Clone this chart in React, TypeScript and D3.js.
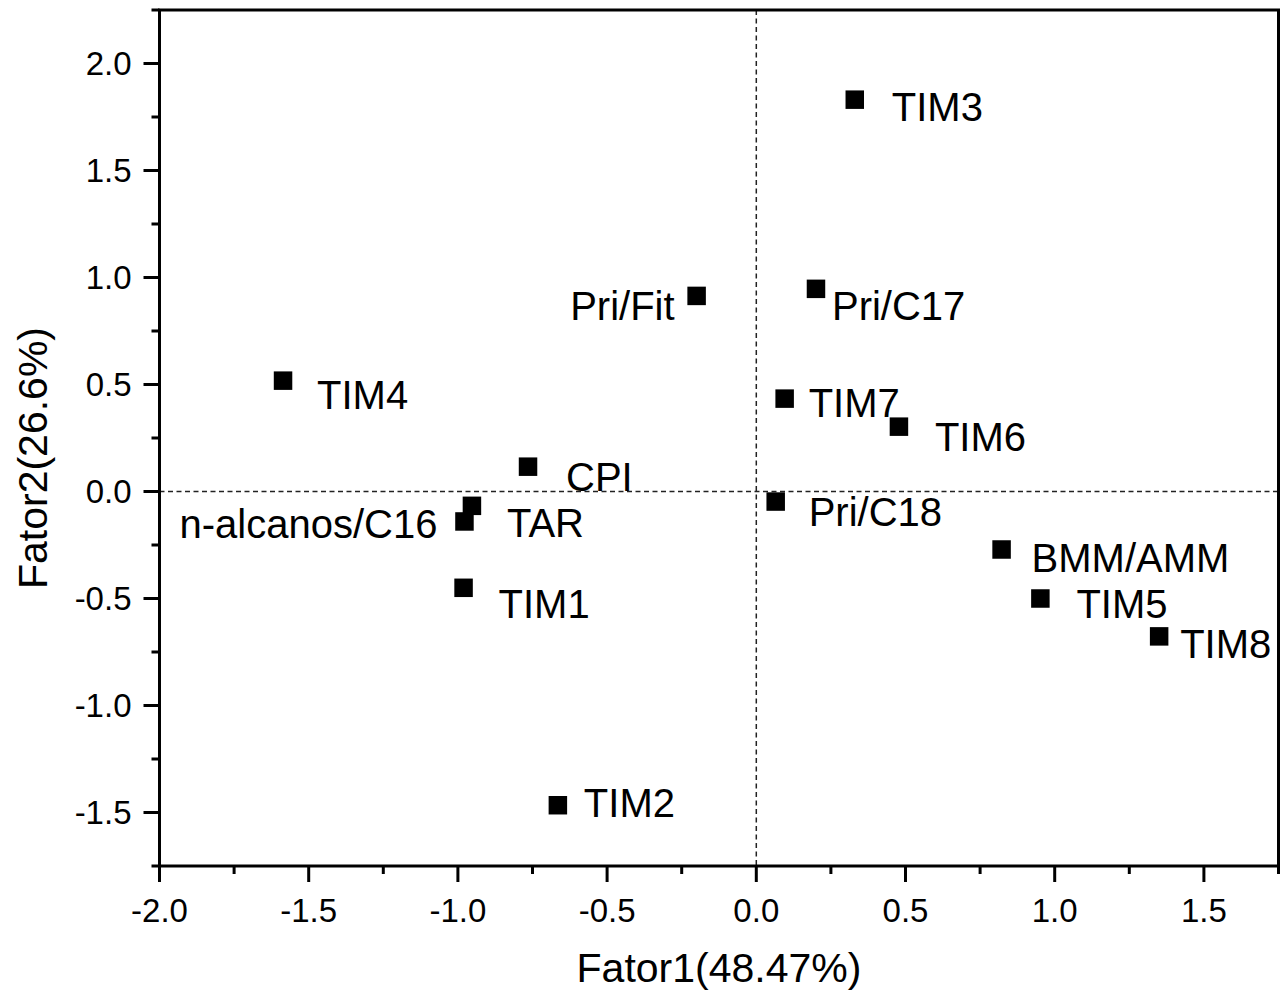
import * as d3 from "d3";
import React from "react";

// PCA scores / loadings
const labels = [
  "TIM3", "Pri/Fit", "Pri/C17", "TIM4", "CPI", "TIM7", "TIM6", "Pri/C18",
  "BMM/AMM", "TIM5", "TIM8", "TIM1", "TIM2", "TAR", "n-alcanos/C16",
];
const fator1 = [
  0.33, -0.2, 0.2, -1.586, -0.765, 0.095, 0.478, 0.065,
  0.822, 0.952, 1.35, -0.981, -0.665, -0.953, -0.978,
];
const fator2 = [
  1.831, 0.914, 0.947, 0.518, 0.116, 0.434, 0.303, -0.047,
  -0.271, -0.5, -0.677, -0.45, -1.466, -0.067, -0.14,
];
const xTicks = [-2.0, -1.5, -1.0, -0.5, 0.0, 0.5, 1.0, 1.5];
const yTicks = [-1.5, -1.0, -0.5, 0.0, 0.5, 1.0, 1.5, 2.0];

// label nudges in px: [dx, dy to baseline, anchor]
const labelPos: Record<string, [number, number, string]> = {
  TIM3: [37, 21, "start"],
  "Pri/Fit": [-22, 24, "end"],
  "Pri/C17": [16, 31, "start"],
  TIM4: [34, 28, "start"],
  CPI: [38, 24, "start"],
  TIM7: [24, 18, "start"],
  TIM6: [36, 24, "start"],
  "Pri/C18": [33, 24, "start"],
  "BMM/AMM": [30, 23, "start"],
  TIM5: [36, 19, "start"],
  TIM8: [21, 22, "start"],
  TIM1: [35, 30, "start"],
  TIM2: [26, 12, "start"],
  TAR: [35, 31, "start"],
  "n-alcanos/C16": [-27, 17, "end"],
};

const FONT = "'Liberation Sans', Arial, sans-serif";
const fmt = (d: number) => d.toFixed(1); // plain hyphen, like the original

const App = () => {
  const ref = React.useRef<SVGSVGElement>(null);

  React.useEffect(() => {
    const width = 1288,
      height = 999;
    const margin = { top: 10, right: 9.5, bottom: 133, left: 159.5 };

    const svg = d3.select(ref.current);
    svg.selectAll("*").remove();
    svg.attr("width", width).attr("height", height);

    const x = d3
      .scaleLinear()
      .domain([-2, 1.75])
      .range([margin.left, width - margin.right]);
    const y = d3
      .scaleLinear()
      .domain([-1.75, 2.25])
      .range([height - margin.bottom, margin.top]);

    const data = labels.map((l, i) => ({ label: l, f1: fator1[i], f2: fator2[i] }));

    // zero lines
    svg
      .append("line")
      .attr("x1", x(0))
      .attr("x2", x(0))
      .attr("y1", y.range()[1])
      .attr("y2", y.range()[0])
      .attr("stroke", "#222")
      .attr("stroke-width", 1.5)
      .attr("stroke-dasharray", "5,3.5");
    svg
      .append("line")
      .attr("x1", x.range()[0])
      .attr("x2", x.range()[1])
      .attr("y1", y(0))
      .attr("y2", y(0))
      .attr("stroke", "#222")
      .attr("stroke-width", 1.5)
      .attr("stroke-dasharray", "5,3.5");

    // frame
    svg
      .append("rect")
      .attr("x", x.range()[0])
      .attr("y", y.range()[1])
      .attr("width", x.range()[1] - x.range()[0])
      .attr("height", y.range()[0] - y.range()[1])
      .attr("fill", "none")
      .attr("stroke", "#000")
      .attr("stroke-width", 3);

    const minorX = d3.range(-1.75, 1.76, 0.5);
    const minorY = d3.range(-1.75, 2.26, 0.5);

    // x axis
    const xAxis = svg.append("g").attr("transform", `translate(0,${y.range()[0]})`);
    xAxis
      .selectAll("line.major")
      .data(xTicks)
      .enter()
      .append("line")
      .attr("x1", (d) => x(d))
      .attr("x2", (d) => x(d))
      .attr("y1", 0)
      .attr("y2", 16)
      .attr("stroke", "#000")
      .attr("stroke-width", 3);
    xAxis
      .selectAll("line.minor")
      .data(minorX)
      .enter()
      .append("line")
      .attr("x1", (d) => x(d))
      .attr("x2", (d) => x(d))
      .attr("y1", 0)
      .attr("y2", 8)
      .attr("stroke", "#000")
      .attr("stroke-width", 3);
    xAxis
      .selectAll("text")
      .data(xTicks)
      .enter()
      .append("text")
      .attr("x", (d) => x(d))
      .attr("y", 56)
      .attr("text-anchor", "middle")
      .style("font-family", FONT)
      .style("font-size", "33px")
      .text(fmt);

    // y axis
    const yAxis = svg.append("g").attr("transform", `translate(${x.range()[0]},0)`);
    yAxis
      .selectAll("line.major")
      .data(yTicks)
      .enter()
      .append("line")
      .attr("x1", -16)
      .attr("x2", 0)
      .attr("y1", (d) => y(d))
      .attr("y2", (d) => y(d))
      .attr("stroke", "#000")
      .attr("stroke-width", 3);
    yAxis
      .selectAll("line.minor")
      .data(minorY)
      .enter()
      .append("line")
      .attr("x1", -8)
      .attr("x2", 0)
      .attr("y1", (d) => y(d))
      .attr("y2", (d) => y(d))
      .attr("stroke", "#000")
      .attr("stroke-width", 3);
    yAxis
      .selectAll("text")
      .data(yTicks)
      .enter()
      .append("text")
      .attr("x", -28)
      .attr("y", (d) => y(d))
      .attr("dy", "0.36em")
      .attr("text-anchor", "end")
      .style("font-family", FONT)
      .style("font-size", "33px")
      .text(fmt);

    // points
    const square = d3.symbol().type(d3.symbolSquare).size(18.5 * 18.5);
    svg
      .append("g")
      .selectAll("path")
      .data(data)
      .enter()
      .append("path")
      .attr("d", square)
      .attr("transform", (d) => `translate(${x(d.f1)},${y(d.f2)})`)
      .attr("fill", "#000");

    svg
      .append("g")
      .selectAll("text")
      .data(data)
      .enter()
      .append("text")
      .attr("x", (d) => x(d.f1) + labelPos[d.label][0])
      .attr("y", (d) => y(d.f2) + labelPos[d.label][1])
      .attr("text-anchor", (d) => labelPos[d.label][2])
      .style("font-family", FONT)
      .style("font-size", "40px")
      .text((d) => d.label);

    // axis titles
    svg
      .append("text")
      .attr("x", (x.range()[0] + x.range()[1]) / 2)
      .attr("y", 982)
      .attr("text-anchor", "middle")
      .style("font-family", FONT)
      .style("font-size", "41px")
      .text("Fator1(48.47%)");

    svg
      .append("g")
      .attr("transform", `translate(47,${(y.range()[0] + y.range()[1]) / 2 + 20})`)
      .append("text")
      .attr("transform", "rotate(-90)")
      .attr("text-anchor", "middle")
      .style("font-family", FONT)
      .style("font-size", "41px")
      .text("Fator2(26.6%)");
  }, []);

  return (
    <svg
      ref={ref}
      style={{ position: "absolute", left: 0, top: 0, background: "#fff" }}
    ></svg>
  );
};

export default App;
